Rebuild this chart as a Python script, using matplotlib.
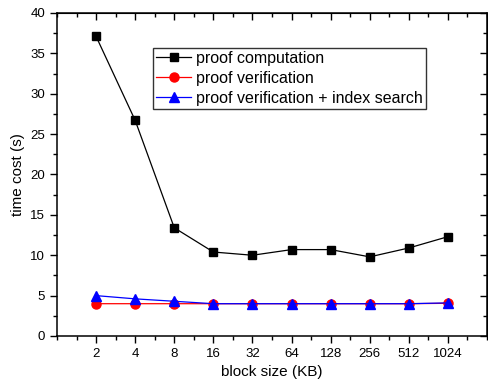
import matplotlib
matplotlib.use("Agg")
import matplotlib.pyplot as plt
from matplotlib.ticker import MultipleLocator

plt.rcParams['font.family'] = ['Liberation Sans', 'DejaVu Sans']

block_sizes = ["2", "4", "8", "16", "32", "64", "128", "256", "512", "1024"]
proof_computation = [37.1, 26.7, 13.4, 10.4, 10.0, 10.7, 10.7, 9.8, 10.9, 12.3]
proof_verification = [4.0, 4.0, 4.0, 4.0, 4.0, 4.0, 4.0, 4.0, 4.0, 4.05]
verification_index = [5.0, 4.6, 4.3, 4.0, 4.0, 4.0, 4.0, 4.0, 4.0, 4.1]

x = list(range(1, len(block_sizes) + 1))

fig = plt.figure(figsize=(4.89, 3.86), dpi=100)
ax = fig.add_axes([57 / 489, 50 / 386, 430 / 489, 323 / 386])

ax.plot(x, proof_computation, color="black", marker="s", markersize=6, lw=0.9,
        label="proof computation")
ax.plot(x, proof_verification, color="red", marker="o", markersize=6.5, lw=0.9,
        label="proof verification")
ax.plot(x, verification_index, color="blue", marker="^", markersize=6.5, lw=0.9,
        label="proof verification + index search")

ax.set_xlim(0, 11)
ax.set_ylim(0, 40)
ax.set_xticks(x)
ax.set_xticklabels(block_sizes)
ax.xaxis.set_minor_locator(MultipleLocator(0.5))
ax.yaxis.set_major_locator(MultipleLocator(5))
ax.yaxis.set_minor_locator(MultipleLocator(2.5))
ax.tick_params(which="major", direction="out", length=5, width=1, labelsize=9.5)
ax.tick_params(which="minor", direction="out", length=3, width=1)

# mirrored ticks on top and right, pointing inward
top = ax.secondary_xaxis("top")
top.set_xticks(x)
top.xaxis.set_minor_locator(MultipleLocator(0.5))
top.tick_params(which="major", direction="in", length=5, width=1, labeltop=False)
top.tick_params(which="minor", direction="in", length=3, width=1)
right = ax.secondary_yaxis("right")
right.yaxis.set_major_locator(MultipleLocator(5))
right.yaxis.set_minor_locator(MultipleLocator(2.5))
right.tick_params(which="major", direction="in", length=5, width=1, labelright=False)
right.tick_params(which="minor", direction="in", length=3, width=1)

for s in ax.spines.values():
    s.set_linewidth(1.1)

ax.set_xlabel("block size (KB)", fontsize=11)
ax.set_ylabel("time cost (s)", fontsize=11)

leg = ax.legend(loc="upper left", bbox_to_anchor=(0.223, 0.892), borderaxespad=0,
                fontsize=11.5, frameon=True, fancybox=False, handlelength=2.2,
                handletextpad=0.3, borderpad=0.2, labelspacing=0.3)
leg.get_frame().set_edgecolor("black")
leg.get_frame().set_linewidth(1)

fig.savefig("out.png", dpi=100)
